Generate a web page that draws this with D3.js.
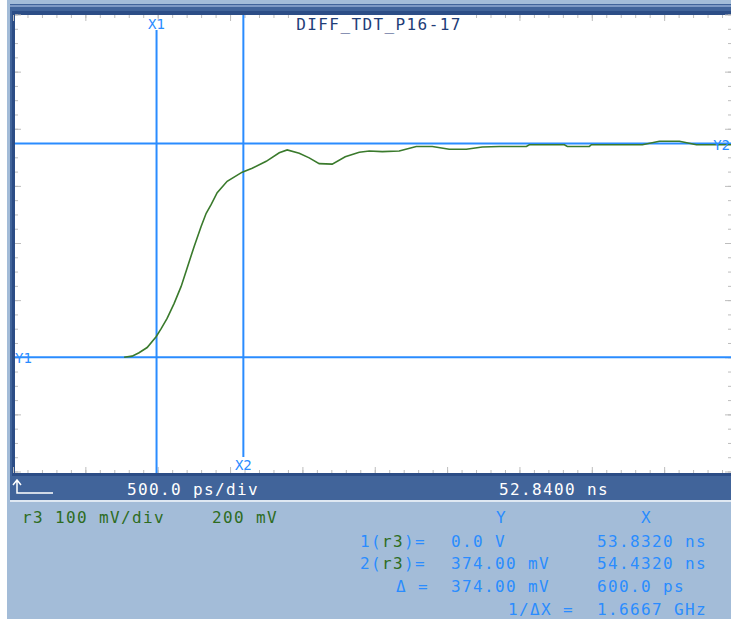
<!DOCTYPE html>
<html><head><meta charset="utf-8">
<script src="https://cdn.jsdelivr.net/npm/d3@7"></script>
<style>
html,body{margin:0;padding:0;background:#fff;}
svg{display:block;}
text{font-family:"DejaVu Sans Mono",monospace;}
</style></head>
<body>
<svg id="c" width="731" height="619"></svg>
<script>
// ---- data ----
const timeNs = [53.608,53.663,53.711,53.767,53.829,53.864,53.905,53.953,54.002,54.043,54.092,54.140,54.175,54.209,54.251,54.320,54.424,54.493,54.590,54.680,54.735,54.818,54.887,54.956,55.046,55.136,55.233,55.302,55.392,55.509,55.627,55.738,55.855,55.973,56.083,56.201,56.388,56.408,56.651,56.671,56.823,56.837,57.190,57.307,57.446,57.563,57.830];
const voltMv = [0,2,8,17,36,50,68,94,124,156,194,229,252,267,288,308,324,331,343,358,363,357,349,339,338,351,359,361,360,361,369,369,364,364,368,369,369,372,372,369,369,372,372,378,378,372,372];
const title = "DIFF_TDT_P16-17";
const cursorX = [{name:"X1", t:53.832}, {name:"X2", t:54.432}];
const cursorY = [{name:"Y1", v:0}, {name:"Y2", v:374}];
const timebase = "500.0 ps/div";
const position = "52.8400 ns";
const channelInfo = ["r3 100 mV/div", "200 mV"];
const readoutRows = [
  {label:["1(", "r3", ")="], y:"0.0 V", x:"53.8320 ns"},
  {label:["2(", "r3", ")="], y:"374.00 mV", x:"54.4320 ns"},
  {label:["\u0394 ="], y:"374.00 mV", x:"600.0 ps"},
  {label:["1/\u0394X ="], y:"", x:"1.6667 GHz"}
];
const tStart = 52.84, tPerDiv = 0.5, nDivX = 10;
const vMin = -200, vMax = 600, vPerDiv = 100;

// ---- drawing ----
const svg = d3.select("#c");
const LB = "#a3bcd8", DB = "#41649a", NAVY = "#2c4d86", CUR = "#2a8cff", GRN = "#2e6c1f";

// background panels
svg.append("rect").attr("x",7).attr("y",0).attr("width",724).attr("height",619).attr("fill",LB);
svg.append("rect").attr("x",10).attr("y",4).attr("width",721).attr("height",497).attr("fill",DB);
svg.append("rect").attr("x",10).attr("y",5).attr("width",721).attr("height",2).attr("fill","#7d99c4");
svg.append("rect").attr("x",12).attr("y",11).attr("width",719).attr("height",4).attr("fill",NAVY);
svg.append("rect").attr("x",12).attr("y",11).attr("width",3).attr("height",465).attr("fill",NAVY);
svg.append("rect").attr("x",12).attr("y",473).attr("width",719).attr("height",3).attr("fill",NAVY);
svg.append("rect").attr("x",10).attr("y",500).attr("width",721).attr("height",2).attr("fill","#dfe8f2");
// plot area
svg.append("rect").attr("x",15).attr("y",15).attr("width",716).attr("height",458).attr("fill","#fff");

const x = d3.scaleLinear().domain([tStart, tStart + nDivX*tPerDiv]).range([13, 13 + nDivX*72.35]);
const y = d3.scaleLinear().domain([vMin, vMax]).range([471.5, 14.5]);

const plot = svg.append("g");
const minorX = d3.range(0, nDivX*5+1).map(i => tStart + i*tPerDiv/5);
const majorX = d3.range(0, nDivX+1).map(i => tStart + i*tPerDiv);
const minorY = d3.range(0, (vMax-vMin)/25+1).map(i => vMin + i*25);
const majorY = d3.range(vMin, vMax+1, vPerDiv);

function tickAxis(axis, tx, ty){
  const g = plot.append("g").attr("transform",`translate(${tx},${ty})`).call(axis);
  g.select(".domain").remove();
  g.selectAll("text").remove();
  g.selectAll("line").attr("stroke","#bdbdbd").attr("stroke-width",1);
}
tickAxis(d3.axisBottom(x).tickValues(minorX).tickSize(3), 0, 15);
tickAxis(d3.axisBottom(x).tickValues(majorX).tickSize(6), 0, 15);
tickAxis(d3.axisTop(x).tickValues(minorX).tickSize(3), 0, 473);
tickAxis(d3.axisTop(x).tickValues(majorX).tickSize(6), 0, 473);
tickAxis(d3.axisRight(y).tickValues(minorY).tickSize(3), 15, 0);
tickAxis(d3.axisRight(y).tickValues(majorY).tickSize(6), 15, 0);
tickAxis(d3.axisLeft(y).tickValues(minorY).tickSize(3), 731, 0);
tickAxis(d3.axisLeft(y).tickValues(majorY).tickSize(6), 731, 0);

// title
svg.append("rect").attr("x",290).attr("y",15).attr("width",178).attr("height",17).attr("fill","#fff");
svg.append("text").attr("x",379).attr("y",24).attr("text-anchor","middle").attr("dominant-baseline","central")
  .attr("font-size",16).attr("letter-spacing",1.4).attr("fill","#1f3d78").text(title);

// cursors
const X1 = x(cursorX[0].t), X2 = x(cursorX[1].t);
svg.append("line").attr("x1",X1).attr("x2",X1).attr("y1",30).attr("y2",473).attr("stroke",CUR).attr("stroke-width",2);
svg.append("line").attr("x1",X2).attr("x2",X2).attr("y1",15).attr("y2",457).attr("stroke",CUR).attr("stroke-width",2);
cursorY.forEach(c => {
  svg.append("line").attr("x1",15).attr("x2",731).attr("y1",y(c.v)).attr("y2",y(c.v)).attr("stroke",CUR).attr("stroke-width",2);
});

// trace
const pts = timeNs.map((t,i)=>[t, voltMv[i]]);
svg.append("path").datum(pts)
  .attr("d", d3.line().x(d=>x(d[0])).y(d=>y(d[1])))
  .attr("fill","none").attr("stroke","#3a7a2c").attr("stroke-width",1.6);

// cursor labels
const lab = (tx,ty,s,anchor) => svg.append("text").attr("x",tx).attr("y",ty).attr("text-anchor",anchor||"middle")
  .attr("dominant-baseline","central").attr("font-size",14).attr("fill",CUR).text(s);
lab(X1, 24, cursorX[0].name);
lab(X2, 465, cursorX[1].name);
lab(15, y(0)+1, cursorY[0].name, "start");
lab(730, y(374)+1, cursorY[1].name, "end");

// band
svg.append("path").attr("d","M17,481 L17,493 L53,493 M13,485 L17,480 L21,485").attr("fill","none").attr("stroke","#fff").attr("stroke-width",1.5);
const T = (tx,ty,s,col) => svg.append("text").attr("x",tx).attr("y",ty).attr("dominant-baseline","central")
  .attr("font-size",16).attr("letter-spacing",1.37).attr("fill",col).text(s);
T(127, 489, timebase, "#fff");
T(499, 489, position, "#fff");

// lower panel
T(22, 517, channelInfo[0], GRN);
T(212, 517, channelInfo[1], GRN);
T(496, 517, "Y", CUR);
T(641, 517, "X", CUR);
const rowY = [541, 563, 586, 609];
readoutRows.forEach((r,i) => {
  const lx = i===2 ? 396 : (i===3 ? 508 : 360);
  const t = svg.append("text").attr("x",lx).attr("y",rowY[i]).attr("dominant-baseline","central")
    .attr("font-size",16).attr("letter-spacing",1.37).attr("fill",CUR);
  r.label.forEach(s => t.append("tspan").attr("fill", s==="r3" ? GRN : CUR).text(s));
  if (r.y) T(451, rowY[i], r.y, CUR);
  T(597, rowY[i], r.x, CUR);
});
</script>
</body></html>
